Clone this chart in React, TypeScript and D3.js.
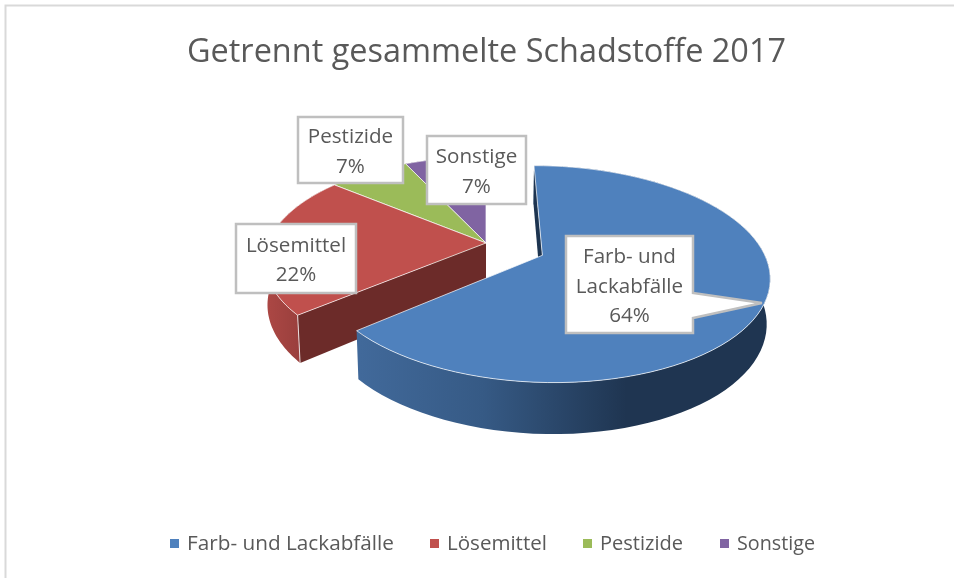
import React from "react";
import * as d3 from "d3";

const categories = ["Farb- und Lackabfälle", "Lösemittel", "Pestizide", "Sonstige"];
const shares = [64, 22, 7, 7];
const explosion = [0.28, 0, 0, 0];
const topColors = ["#4f81bd", "#c0504d", "#9bbb59", "#8064a2"];
const wallColors = ["#1d3450", "#6c2b29", "#6b8239", "#54416d"];
const title = "Getrennt gesammelte Schadstoffe 2017";

// label boxes, one per slice: x0, y0, x1, y1
const labelBoxes = [
  [566, 236, 693, 333],
  [236, 224, 356, 293],
  [298, 117, 403, 183],
  [427, 136, 526, 204],
];
const labelLines = [["Farb- und", "Lackabfälle"], ["Lösemittel"], ["Pestizide"], ["Sonstige"]];
const legendX = [170, 430, 583, 720];
const legendWidths = [207, 100, 83, 78];

const FONT = "'Open Sans', sans-serif";
const TEXT = "#595959";

// perspective of the tilted pie
const cx = 486, cy = 243, A = 218, B = 101, D = 44, K = 0.17, Q = 0.012;

const slices = d3.pie<number>().sort(null).value((d) => d)(shares);

function project(a: number, r: number, i: number, z: number): [number, number] {
  const mid = (slices[i].startAngle + slices[i].endAngle) / 2;
  const X = r * Math.sin(a) + explosion[i] * Math.sin(mid);
  const Y = -r * Math.cos(a) - explosion[i] * Math.cos(mid);
  const w = 1 - K * Y + Q * z;
  return [cx + (A * X) / w, cy + (B * Y + D * z) / w];
}

const toPath = d3.line();

function rim(i: number, z: number) {
  const s = slices[i];
  return d3.range(0, 81).map((t) => project(s.startAngle + ((s.endAngle - s.startAngle) * t) / 80, 1, i, z));
}

function App() {
  const order = [3, 2, 1, 0];
  return (
    <svg width={954} height={578} style={{ position: "absolute", left: 0, top: 0, background: "#fff" }}>
      <defs>
        <linearGradient id="side0" gradientUnits="userSpaceOnUse" x1={360} x2={770} y1={0} y2={0}>
          <stop offset="0" stopColor="#41699a" />
          <stop offset="0.3" stopColor="#365a85" />
          <stop offset="0.65" stopColor="#1f3551" />
          <stop offset="1" stopColor="#1f3551" />
        </linearGradient>
        <linearGradient id="side1" gradientUnits="userSpaceOnUse" x1={268} x2={304} y1={0} y2={0}>
          <stop offset="0" stopColor="#ab4744" />
          <stop offset="1" stopColor="#973e3c" />
        </linearGradient>
        <filter id="soft" x="0" y="0" width="100%" height="100%" colorInterpolationFilters="sRGB">
          <feGaussianBlur stdDeviation={0.45} />
        </filter>
      </defs>

      <g filter="url(#soft)">
        <rect width={954} height={578} fill="#fff" />
        <path d="M5.5 578V5.5H954" fill="none" stroke="#d9d9d9" strokeWidth={2} />

        <text x={187} y={62} textLength={599} lengthAdjust="spacingAndGlyphs" fontFamily={FONT} fontSize={32.5} fill={TEXT}>
          {title}
        </text>

        {order.map((i) => {
          const top = rim(i, 0);
          const bottom = rim(i, 1);
          const apexTop = project(0, 0, i, 0);
          const apexBottom = project(0, 0, i, 1);
          // only the wall at a slice's start angle ever faces the viewer
          const startWall = [apexTop, top[0], bottom[0], apexBottom] as [number, number][];
          return (
            <g key={categories[i]}>
              <path d={toPath([...top, ...bottom.slice().reverse()]) + "Z"} fill={i < 2 ? `url(#side${i})` : wallColors[i]} />
              <path d={toPath(startWall) + "Z"} fill={wallColors[i]} />
              {i === 1 && <path d={toPath([top[0], bottom[0]]) ?? ""} stroke="#fff" strokeOpacity={0.8} fill="none" />}
              <path
                d={toPath([apexTop, ...top]) + "Z"}
                fill={topColors[i]}
                stroke="#fff"
                strokeOpacity={0.7}
                strokeWidth={1}
                strokeLinejoin="round"
              />
            </g>
          );
        })}

        {labelBoxes.map(([x0, y0, x1, y1], i) => {
          const outline =
            i === 0
              ? `M${x0} ${y0}H${x1}V293L762 303L${x1} 318V${y1}H${x0}Z`
              : `M${x0} ${y0}H${x1}V${y1}H${x0}Z`;
          const rows = [...labelLines[i], `${shares[i]}%`];
          const mid = (x0 + x1) / 2;
          const rowH = 29.5;
          const first = (y0 + y1) / 2 - (rowH * (rows.length - 1)) / 2 + 8;
          return (
            <g key={i}>
              <path d={outline} fill="#fff" stroke="#bfbfbf" strokeWidth={2.5} />
              {rows.map((r, j) => (
                <text key={j} x={mid} y={first + j * rowH} textAnchor="middle" fontFamily={FONT} fontSize={20.6} fill={TEXT}>
                  {r}
                </text>
              ))}
            </g>
          );
        })}

        {categories.map((c, i) => (
          <g key={c}>
            <rect x={legendX[i]} y={539} width={9} height={9} fill={topColors[i]} />
            <text
              x={legendX[i] + 17}
              y={550}
              textLength={legendWidths[i]}
              lengthAdjust="spacingAndGlyphs"
              fontFamily={FONT}
              fontSize={20}
              fill={TEXT}
            >
              {c}
            </text>
          </g>
        ))}
      </g>
    </svg>
  );
}

export default App;
